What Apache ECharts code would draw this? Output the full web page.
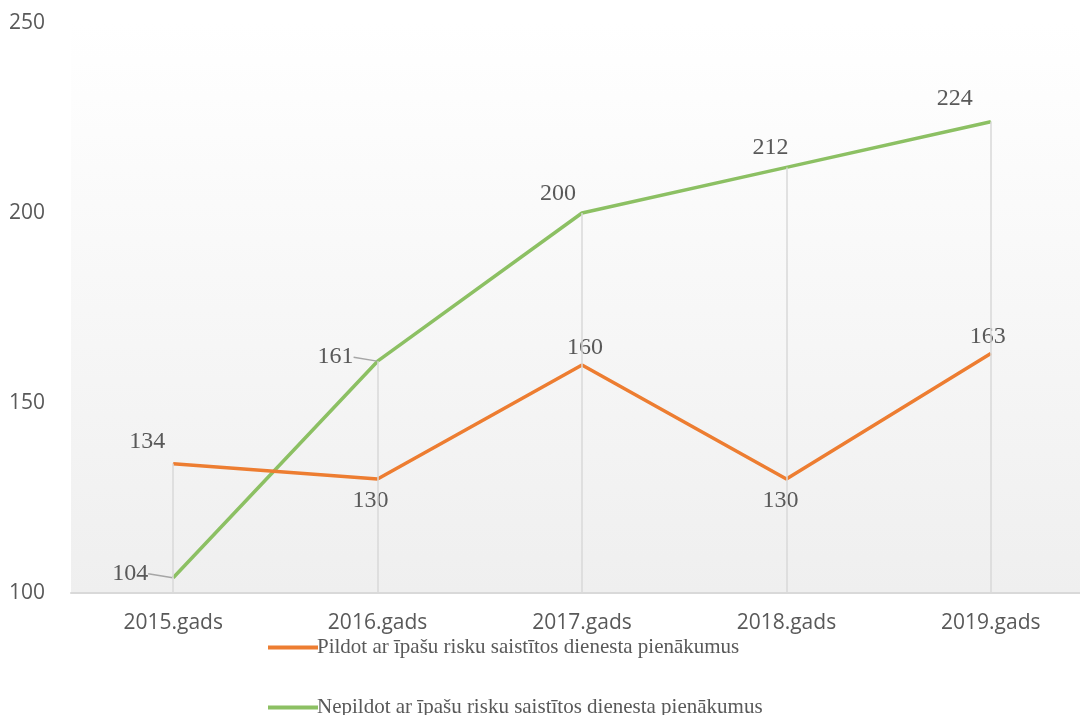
<!DOCTYPE html>
<html style="height: 100%">
<head>
<meta charset="utf-8">
</head>
<body style="height: 100%; margin: 0; background: #fff; overflow: hidden">
<!-- plot area runs a little past the right edge in the original, so the canvas is wider than the window -->
<div id="container" style="width: 1093px; height: 715px"></div>
<script src="https://cdn.jsdelivr.net/npm/echarts@6/dist/echarts.min.js"></script>
<script>
var years = ['2015.gads', '2016.gads', '2017.gads', '2018.gads', '2019.gads'];
var pildot = [134, 130, 160, 130, 163];
var nepildot = [104, 161, 200, 212, 224];
var names = ['Pildot ar īpašu risku saistītos dienesta pienākumus',
             'Nepildot ar īpašu risku saistītos dienesta pienākumus'];

// label offsets per point (px) - placed like the excel original
var orangeOff = [[-26, -22], [-7, 22], [3, -17], [-6, 22], [-3, -17]];
var greenOff = [[-43, -4], [-42, -4], [-24, -19], [-16, -20], [-36, -23]];
var greenLeader = [true, true, false, false, false];

var serif = '"Liberation Serif", "Times New Roman", serif';
var sans = '"Open Sans", sans-serif';

// drop lines from the top point of each year to the axis
var drops = years.map(function (y, i) {
  return [{ coord: [y, Math.max(pildot[i], nepildot[i])] }, { coord: [y, 100] }];
});

function legendBox(name, top) {
  return {
    orient: 'vertical',
    left: 263, top: top,
    itemWidth: 50, itemHeight: 4,
    icon: 'rect',
    textStyle: { fontFamily: serif, fontSize: 21, color: '#595959', padding: [0, 0, 0, -6] },
    data: [name]
  };
}

var dom = document.getElementById('container');
var myChart = echarts.init(dom);
var option = {
  animation: false,
  grid: {
    left: 71, right: 0, top: 23, bottom: 122,
    show: true,
    borderWidth: 0,
    backgroundColor: new echarts.graphic.LinearGradient(0, 0, 0, 1, [
      { offset: 0, color: '#ffffff' },
      { offset: 0.13, color: '#fdfdfd' },
      { offset: 1, color: '#efefef' }
    ])
  },
  legend: [legendBox(names[0], 632), legendBox(names[1], 692)],
  xAxis: {
    type: 'category',
    data: years,
    axisLine: { lineStyle: { color: '#d9d9d9', width: 2 } },
    axisTick: { show: false },
    axisLabel: { fontFamily: sans, fontSize: 21, color: '#595959', margin: 20 }
  },
  yAxis: {
    type: 'value',
    min: 100, max: 250, interval: 50,
    splitLine: { show: false },
    axisLine: { show: false },
    axisTick: { show: false },
    axisLabel: { fontFamily: sans, fontSize: 21, color: '#595959', margin: 62, align: 'left', verticalAlign: 'middle' }
  },
  series: [{
    name: names[1],
    type: 'line',
    symbol: 'circle',
    symbolSize: 1,
    z: 3,
    lineStyle: { color: '#8cc063', width: 3.5 },
    itemStyle: { color: '#8cc063' },
    data: nepildot.map(function (v, i) {
      return { value: v, labelLine: { show: greenLeader[i] } };
    }),
    label: { show: true, position: 'inside', fontFamily: serif, fontSize: 24, color: '#595959' },
    labelLine: { lineStyle: { color: '#a6a6a6', width: 1.5 } },
    labelLayout: function (p) {
      return { dx: greenOff[p.dataIndex][0], dy: greenOff[p.dataIndex][1] };
    },
    markLine: {
      silent: true,
      symbol: 'none',
      label: { show: false },
      lineStyle: { color: '#d9d9d9', width: 1.5, type: 'solid' },
      data: drops
    }
  }, {
    name: names[0],
    type: 'line',
    symbol: 'circle',
    symbolSize: 1,
    z: 4,
    lineStyle: { color: '#ed7d31', width: 3.5 },
    itemStyle: { color: '#ed7d31' },
    data: pildot,
    label: { show: true, position: 'inside', fontFamily: serif, fontSize: 24, color: '#595959' },
    labelLine: { show: false },
    labelLayout: function (p) {
      return { dx: orangeOff[p.dataIndex][0], dy: orangeOff[p.dataIndex][1] };
    }
  }]
};
myChart.setOption(option);
</script>
</body>
</html>
